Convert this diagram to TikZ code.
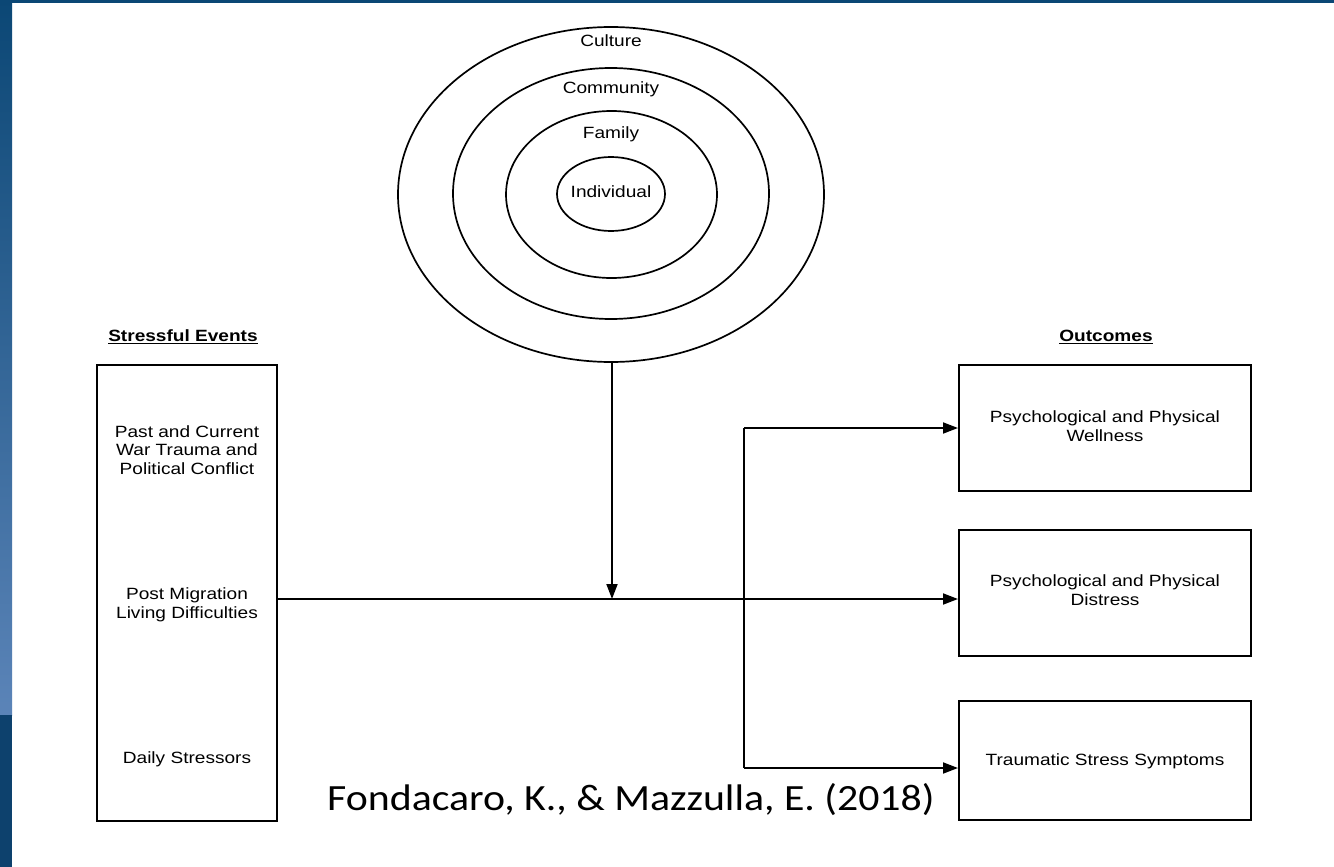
\documentclass[tikz,border=0pt]{standalone}
\usepackage{fontspec}
\setmainfont{Liberation Sans}[FakeStretch=1.17]
\newfontfamily\citefont{Carlito}[FakeStretch=1.13]
\usetikzlibrary{shapes.geometric,arrows.meta}
\definecolor{slideblue}{HTML}{0B4775}
\definecolor{slidelight}{HTML}{5B84B8}
\definecolor{slidedark}{HTML}{0D416D}
\begin{document}
\begin{tikzpicture}[x=1pt,y=-1pt,
  ring/.style={draw, ellipse, line width=1.7pt, inner sep=0pt},
  box/.style={draw, rectangle, line width=2pt, inner sep=0pt},
  lbl/.style={font=\fontsize{16.3}{18.5}\selectfont, align=center, inner sep=0pt},
  head/.style={font=\fontsize{16.3}{18.5}\selectfont\bfseries, inner sep=0pt},
  wire/.style={line width=1.8pt},
  arr/.style={wire, -{Triangle[length=15pt,width=11pt]}}
]
\useasboundingbox (0,0) rectangle (1334,867);
\fill[white] (0,0) rectangle (1334,867);
% slide border
\shade[top color=slideblue, bottom color=slidelight] (0,0) rectangle (12,715);
\fill[slidedark] (0,715) rectangle (12,867);
\fill[slideblue] (0,0) rectangle (1334,3);

% nested rings
\node[ring, minimum width=426pt, minimum height=335pt] (culture) at (611,194.5) {};
\node[ring, minimum width=316pt, minimum height=251pt] (community) at (611,193.5) {};
\node[ring, minimum width=211pt, minimum height=167pt] (family) at (611.5,194.5) {};
\node[ring, minimum width=108pt, minimum height=74pt] (individual) at (611,194) {};
\node[lbl] (tculture) at (611,41) {Culture};
\node[lbl] (tcommunity) at (611,89) {Community};
\node[lbl] (tfamily) at (611,134) {Family};
\node[lbl] (tindividual) at (611,192) {Individual};

% headings
\node[head] (hstress) at (183,337) {\underline{Stressful Events}};
\node[head] (hout) at (1106,337) {\underline{Outcomes}};

% left box
\node[box, minimum width=180pt, minimum height=456pt] (stress) at (187,593) {};
\node[lbl] (past) at (187,450) {Past and Current\\War Trauma and\\Political Conflict};
\node[lbl] (post) at (187,605) {Post Migration\\Living Difficulties};
\node[lbl] (daily) at (187,759) {Daily Stressors};

% right boxes
\node[box, minimum width=292pt, minimum height=126pt] (wellness) at (1105,428) {};
\node[lbl] (twell) at (1105,426) {Psychological and Physical\\Wellness};
\node[box, minimum width=292pt, minimum height=126pt] (distress) at (1105,593) {};
\node[lbl] (tdist) at (1105,590) {Psychological and Physical\\Distress};
\node[box, minimum width=292pt, minimum height=119pt] (trauma) at (1105,760.5) {};
\node[lbl] (ttrauma) at (1105,761) {Traumatic Stress Symptoms};

% connectors
\coordinate (j) at (612,599);
\coordinate (v1) at (744,428);
\coordinate (v3) at (744,768);
\draw[arr] (culture.south -| j) -- (j);
\draw[arr] (stress.east |- j) -- (distress.west |- j);
\draw[wire] (v1) -- (v3);
\draw[arr] (v1) -- (wellness.west |- v1);
\draw[arr] (v3) -- (trauma.west |- v3);

% citation
\node[font=\citefont\fontsize{37}{40}\selectfont, inner sep=0pt, anchor=base west] (cite) at (327,810) {Fondacaro, K., \& Mazzulla, E. (2018)};
\end{tikzpicture}
\end{document}
